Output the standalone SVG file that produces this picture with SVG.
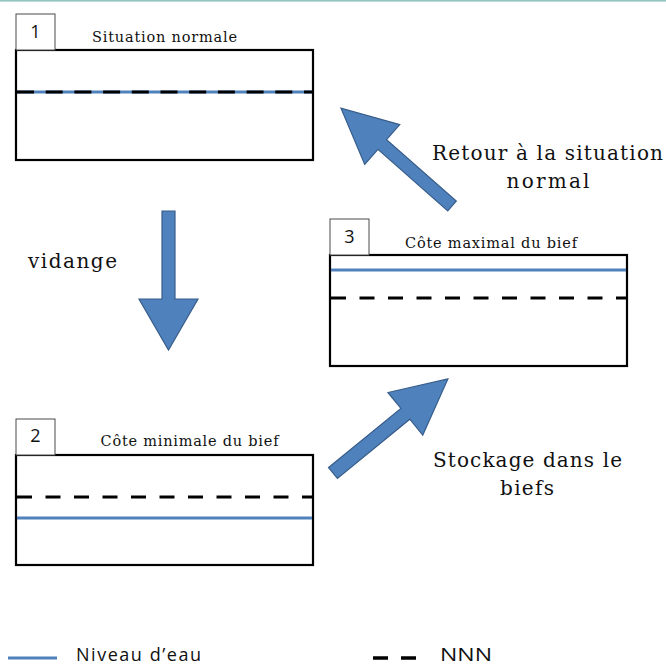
<svg xmlns="http://www.w3.org/2000/svg" width="666" height="666" viewBox="0 0 666 666">
<style>
.box{fill:#fff;stroke:#000;stroke-width:2.2}
.tag{fill:#fff;stroke:#4a4a4a;stroke-width:1}
.num{font-family:"Open Sans","Liberation Sans",sans-serif;font-size:18px;fill:#111}
.title{font-family:"DejaVu Serif","Liberation Serif",serif;font-size:14.5px;fill:#111}
.big{font-family:"DejaVu Serif","Liberation Serif",serif;font-size:20px;fill:#111}
.leg{font-family:"Open Sans","Liberation Sans",sans-serif;font-size:18px;fill:#111}
.water{stroke:#4F81BD;stroke-width:3;fill:none}
.nnn{stroke:#000;stroke-width:3;fill:none;stroke-dasharray:15 13.5}
.arrow{fill:#4F81BD;stroke:#385D8A;stroke-width:1.2;stroke-linejoin:miter}
</style>
<rect x="0" y="0" width="666" height="666" fill="#fff"/>
<rect x="0" y="0" width="666" height="1.6" fill="#93c4c4"/>

<g id="state1">
<rect class="box" x="16" y="50" width="297" height="110"/>
<rect class="tag" x="16" y="14" width="39" height="36"/>
<text class="num" x="35.5" y="38" text-anchor="middle">1</text>
<text class="title" x="164.5" y="42" text-anchor="middle" textLength="145">Situation normale</text>
<line class="water" x1="17" y1="92" x2="312" y2="92"/>
<line x1="17" y1="92" x2="312" y2="92" stroke="#000" stroke-width="3" stroke-dasharray="17 11.7"/>
</g>

<g id="state3">
<rect class="box" x="330" y="255" width="297" height="111"/>
<rect class="tag" x="330" y="219" width="39" height="36"/>
<text class="num" x="349.5" y="243" text-anchor="middle">3</text>
<text class="title" x="491" y="248" text-anchor="middle" textLength="172">Côte maximal  du bief</text>
<line class="water" x1="331" y1="270" x2="626" y2="270"/>
<line class="nnn" x1="331" y1="298" x2="626" y2="298"/>
</g>

<g id="state2">
<rect class="box" x="16" y="455" width="297" height="110"/>
<rect class="tag" x="16" y="419" width="39" height="36"/>
<text class="num" x="35.5" y="442" text-anchor="middle">2</text>
<text class="title" x="189.5" y="446" text-anchor="middle" textLength="178">Côte minimale  du bief</text>
<line class="nnn" x1="17" y1="497" x2="312" y2="497"/>
<line class="water" x1="17" y1="518" x2="312" y2="518"/>
</g>

<g id="connectors">
<polygon id="arrow-vidange" class="arrow" points="162,211 175,211 175,299 198,299 168.5,350 139,299 162,299"/>
<polygon id="arrow-stockage" class="arrow" transform="translate(333,473) rotate(-39.3)" points="0,-7 93.5,-7 93.5,-27.5 148.5,0 93.5,27.5 93.5,7 0,7"/>
<polygon id="arrow-retour" class="arrow" transform="translate(452,206) rotate(-138.6)" points="0,-6.5 93,-6.5 93,-26.5 148,0 93,26.5 93,6.5 0,6.5"/>
<text class="big" x="72.5" y="268" text-anchor="middle" textLength="89">vidange</text>
<text class="big" x="547.5" y="160" text-anchor="middle" textLength="231">Retour à la situation</text>
<text class="big" x="548" y="188" text-anchor="middle" textLength="83">normal</text>
<text class="big" x="527.5" y="467" text-anchor="middle" textLength="189">Stockage dans le</text>
<text class="big" x="527" y="495" text-anchor="middle" textLength="54">biefs</text>
</g>

<g id="legend">
<line class="water" x1="8" y1="658" x2="57" y2="658"/>
<text class="leg" x="76" y="661" textLength="125">Niveau d’eau</text>
<line x1="373" y1="658" x2="416" y2="658" stroke="#000" stroke-width="3.5" stroke-dasharray="15 13"/>
<text class="leg" x="440" y="661" textLength="52" lengthAdjust="spacingAndGlyphs">NNN</text>
</g>
</svg>
